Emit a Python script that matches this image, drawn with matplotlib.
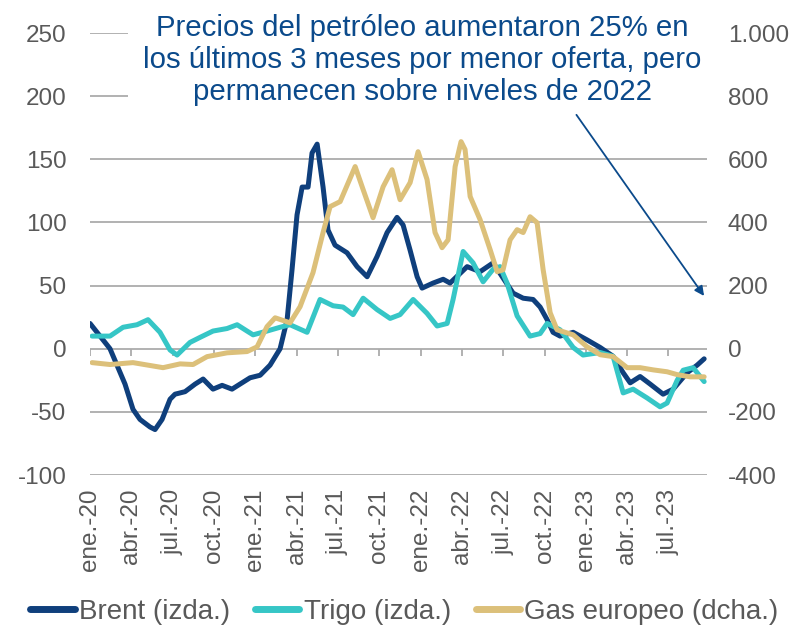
import matplotlib
matplotlib.use("Agg")
import matplotlib.pyplot as plt
from matplotlib.patches import Rectangle
from matplotlib.ticker import FuncFormatter, FixedLocator

plt.rcParams['font.family'] = ['Liberation Sans', 'DejaVu Sans']
plt.rcParams['axes.unicode_minus'] = False

# months since ene.-20, % change
brent_m = [0.0, 1.45, 2.54, 3.12, 3.63, 4.36, 4.72, 5.23, 5.81, 6.17, 6.90, 7.63, 8.21, 8.93,
           9.59, 10.31, 10.89, 11.62, 12.35, 13.07, 13.80, 14.31, 14.67, 15.03, 15.40, 15.83,
           16.12, 16.49, 16.92, 17.28, 17.79, 18.66, 19.39, 20.12, 20.84, 21.57, 22.29, 22.73,
           23.24, 23.75, 24.11, 24.91, 25.64, 26.14, 27.38, 28.32, 29.27, 29.99, 30.72, 31.45,
           32.17, 32.68, 33.19, 33.62, 34.13, 35.08, 36.09, 37.04, 37.98, 38.71, 39.22, 39.94,
           40.67, 41.61, 42.34, 43.36, 44.08, 44.59]
brent_v = [20, 0, -28, -48, -56, -62, -64, -56, -40, -36, -34, -28, -24, -32,
           -29, -32, -28, -23, -21, -13, 0, 23, 63, 106, 128, 128,
           155, 162, 128, 94, 82, 76, 65, 57, 73, 92, 104, 98,
           78, 57, 48, 52, 55, 52, 65, 61, 68, 56, 44, 40,
           39, 33, 23, 13, 10, 13, 7, 1, -6, -19, -27, -22,
           -28, -36, -32, -19, -13, -8]

trigo_m = [0.15, 1.45, 2.40, 3.41, 4.21, 5.08, 5.81, 6.32, 7.26, 7.99, 8.93, 9.95, 10.68, 11.40,
           11.84, 12.85, 13.80, 14.52, 15.76, 16.70, 17.65, 18.37, 19.10, 19.83, 20.84, 21.79,
           22.51, 23.46, 24.47, 25.20, 25.93, 26.36, 27.09, 27.81, 28.54, 29.27, 29.77, 30.28,
           31.01, 31.95, 32.68, 33.19, 34.13, 35.08, 35.80, 37.04, 37.98, 38.71, 39.43, 40.45,
           41.39, 41.90, 42.63, 43.07, 43.79, 44.59]
trigo_v = [10, 10, 17, 19, 23, 13, -1, -5, 5, 9, 14, 16, 19, 14,
           11, 14, 17, 19, 13, 39, 34, 33, 27, 40, 31, 24,
           27, 39, 28, 18, 20, 39, 77, 68, 53, 63, 65, 52,
           26, 10, 12, 20, 15, 1, -5, -3, -6, -35, -32, -39,
           -46, -43, -25, -17, -15, -26]

gas_m = [0.15, 1.45, 3.12, 5.30, 6.54, 7.48, 8.50, 9.95, 11.40, 12.13, 12.85, 13.44, 14.52,
         15.25, 16.19, 16.92, 17.43, 18.16, 19.25, 19.83, 20.55, 21.28, 21.93, 22.51, 23.24,
         23.82, 24.47, 25.05, 25.56, 26.00, 26.51, 26.94, 27.23, 27.60, 28.32, 29.05, 29.56,
         29.99, 30.50, 31.01, 31.45, 31.95, 32.46, 32.90, 33.41, 33.91, 35.08, 36.09, 37.04,
         37.98, 39.00, 39.94, 40.89, 41.90, 42.63, 43.57, 44.59]
gas_v = [-44, -50, -44, -60, -48, -50, -25, -13, -9, 6, 70, 98, 82,
         133, 241, 368, 450, 466, 577, 504, 415, 513, 567, 472, 526,
         624, 536, 368, 320, 345, 577, 656, 631, 482, 409, 314, 244,
         250, 345, 377, 368, 418, 399, 250, 114, 60, 44, 6, -19,
         -25, -60, -60, -67, -73, -82, -89, -89]

tick_m = [0, 3, 6, 9, 12, 15, 18, 21, 24, 27, 30, 33, 36, 39, 42]
tick_labels = ['ene.-20', 'abr.-20', 'jul.-20', 'oct.-20', 'ene.-21', 'abr.-21', 'jul.-21',
               'oct.-21', 'ene.-22', 'abr.-22', 'jul.-22', 'oct.-22', 'ene.-23', 'abr.-23',
               'jul.-23']
left_ticks = [-100, -50, 0, 50, 100, 150, 200, 250]
right_ticks = [-400, -200, 0, 200, 400, 600, 800, 1000]

c_brent = '#0F3F7C'
c_trigo = '#36C6C6'
c_gas = '#DCC07A'
c_text = '#595959'
c_grid = '#ABABAB'

fig = plt.figure(figsize=(8.01, 6.31), dpi=100)
ax = fig.add_axes([0.1124, 0.2472, 0.7703, 0.7005])
ax2 = ax.twinx()

for a in (ax, ax2):
    for s in a.spines.values():
        s.set_visible(False)

ax.set_xlim(0, 44.8)
ax.set_ylim(-100, 250)
ax2.set_ylim(-400, 1000)

for v in left_ticks:
    ax.axhline(v, color=c_grid, lw=1.3, zorder=0)
ax.vlines(tick_m, -6, 0, color=c_grid, lw=1.3, zorder=0)

l1, = ax.plot(brent_m, brent_v, color=c_brent, lw=3.6, solid_capstyle='round', zorder=2)
l2, = ax.plot(trigo_m, trigo_v, color=c_trigo, lw=3.6, solid_capstyle='round', zorder=3)
l3, = ax2.plot(gas_m, gas_v, color=c_gas, lw=3.6, solid_capstyle='round')

ax.set_yticks(left_ticks)
ax.tick_params(axis='y', length=0, pad=17, labelsize=17.5, labelcolor=c_text)
ax2.set_yticks(right_ticks)
ax2.yaxis.set_major_formatter(FuncFormatter(lambda v, p: f'{v:,.0f}'.replace(',', '.')))
ax2.tick_params(axis='y', length=0, pad=15, labelsize=17.5, labelcolor=c_text)

ax.xaxis.set_major_locator(FixedLocator(tick_m))
ax.set_xticklabels(tick_labels, rotation=90)
ax.tick_params(axis='x', length=0, pad=10, labelsize=17.5, labelcolor=c_text)

# white box behind the title hides the top gridlines
fig.patches.append(Rectangle((128 / 801, 1 - 113 / 631), (715 - 128) / 801, 113 / 631,
                             transform=fig.transFigure, facecolor='white', edgecolor='none',
                             zorder=4))
fig.text(0.527, 1 - 60 / 631, 'Precios del petróleo aumentaron 25% en\nlos últimos 3 meses por menor oferta, pero\npermanecen sobre niveles de 2022',
         ha='center', va='center', fontsize=21.2, color='#0B4A8B', linespacing=1.2, zorder=5)

ax.annotate('', xy=(44.7, 40), xytext=(35.2, 187), xycoords='data',
            arrowprops=dict(arrowstyle='-|>', color='#0B4A8B', lw=1.3, mutation_scale=14),
            annotation_clip=False, zorder=6)

fig.legend([l1, l2, l3], ['Brent (izda.)', 'Trigo (izda.)', 'Gas europeo (dcha.)'],
           loc='center', bbox_to_anchor=(0.505, 0.03), ncol=3, frameon=False,
           handlelength=1.6, handletextpad=0.15, columnspacing=0.9,
           prop={'size': 20}, labelcolor=c_text)
for h in fig.legends[0].legend_handles:
    h.set_linewidth(5)

fig.savefig('out.png', dpi=100)
